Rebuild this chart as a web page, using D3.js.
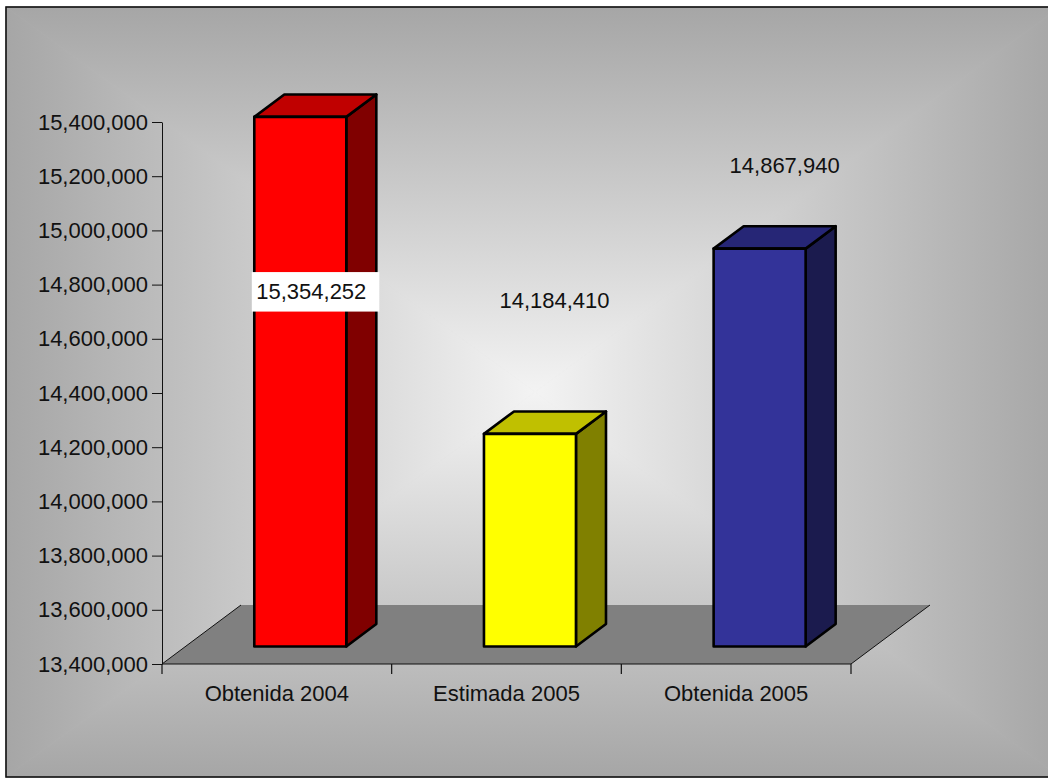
<!DOCTYPE html>
<html>
<head>
<meta charset="utf-8">
<script src="https://cdn.jsdelivr.net/npm/d3@7/dist/d3.min.js"></script>
<style>
  html, body { margin: 0; padding: 0; background: #ffffff; }
  svg { display: block; }
  text { font-family: "Liberation Sans", Arial, sans-serif; }
</style>
</head>
<body>
<svg id="chart" width="1048" height="778"></svg>
<script>
// ---- data ----
const categories = ["Obtenida 2004", "Estimada 2005", "Obtenida 2005"];
const values = [15354252, 14184410, 14867940];
const valueLabels = ["15,354,252", "14,184,410", "14,867,940"];
const yTicks = [13400000, 13600000, 13800000, 14000000, 14200000, 14400000, 14600000, 14800000, 15000000, 15200000, 15400000];
const yTickLabels = ["13,400,000", "13,600,000", "13,800,000", "14,000,000", "14,200,000", "14,400,000", "14,600,000", "14,800,000", "15,000,000", "15,200,000", "15,400,000"];
const frontColors = ["#ff0000", "#ffff00", "#333399"];
const topColors = ["#c00000", "#c0c000", "#262676"];
const sideColors = ["#800000", "#808000", "#1b1b4e"];

// ---- layout ----
const svg = d3.select("#chart");
const frame = { l: 6, t: 7, r: 1060, b: 777 };
const gc = { x: 535, y: 392 };
const plot = { left: 162, right: 851, top: 122, bottom: 664 };
const depth = { dx: 79, dy: -59 };          // floor depth vector
const barFront = 0.297;                      // bar front plane as fraction of depth
const barDepth = 0.38;                       // bar depth as fraction of depth
const barWidth = 92;
const fontSize = 22;

// ---- background (rectangular "from center" gradient) ----
const defs = svg.append("defs");
const centerCol = "#f3f3f3", edgeCol = "#a6a6a6";
const tris = [
  { id: "gT", pts: [[frame.l, frame.t], [frame.r, frame.t]], end: [gc.x, frame.t] },
  { id: "gB", pts: [[frame.l, frame.b], [frame.r, frame.b]], end: [gc.x, frame.b] },
  { id: "gL", pts: [[frame.l, frame.t], [frame.l, frame.b]], end: [frame.l, gc.y] },
  { id: "gR", pts: [[frame.r, frame.t], [frame.r, frame.b]], end: [frame.r, gc.y] }
];
tris.forEach(t => {
  const g = defs.append("linearGradient").attr("id", t.id)
    .attr("gradientUnits", "userSpaceOnUse")
    .attr("x1", gc.x).attr("y1", gc.y).attr("x2", t.end[0]).attr("y2", t.end[1]);
  g.append("stop").attr("offset", "0").attr("stop-color", centerCol);
  g.append("stop").attr("offset", "1").attr("stop-color", edgeCol);
});
svg.append("rect").attr("x", frame.l).attr("y", frame.t)
  .attr("width", frame.r - frame.l).attr("height", frame.b - frame.t)
  .attr("fill", "#c4c4c4");
tris.forEach(t => {
  svg.append("polygon")
    .attr("points", [t.pts[0], t.pts[1], [gc.x, gc.y]].map(p => p.join(",")).join(" "))
    .attr("fill", `url(#${t.id})`)
    .attr("stroke", `url(#${t.id})`).attr("stroke-width", 0.8);
});
svg.append("rect").attr("x", frame.l).attr("y", frame.t)
  .attr("width", frame.r - frame.l).attr("height", frame.b - frame.t)
  .attr("fill", "none").attr("stroke", "#111").attr("stroke-width", 1.6);

// ---- scales ----
const x = d3.scaleBand().domain(categories).range([plot.left, plot.right]).padding(0);
const y = d3.scaleLinear().domain([yTicks[0], yTicks[yTicks.length - 1]]).range([plot.bottom, plot.top]);

// ---- floor ----
const y0 = y(yTicks[0]);
const floorPts = [
  [plot.left, y0], [plot.right, y0],
  [plot.right + depth.dx, y0 + depth.dy], [plot.left + depth.dx, y0 + depth.dy]
];
svg.append("polygon").attr("points", floorPts.map(p => p.join(",")).join(" "))
  .attr("fill", "#808080");
svg.append("line").attr("x1", plot.left).attr("y1", y0)
  .attr("x2", plot.left + depth.dx).attr("y2", y0 + depth.dy)
  .attr("stroke", "#111").attr("stroke-width", 1);
svg.append("line").attr("x1", plot.right).attr("y1", y0)
  .attr("x2", plot.right + depth.dx).attr("y2", y0 + depth.dy)
  .attr("stroke", "#111").attr("stroke-width", 1);

// ---- y axis ----
const yAxis = d3.axisLeft(y).tickValues(yTicks).tickSize(10).tickSizeOuter(0).tickPadding(4)
  .tickFormat((d, i) => yTickLabels[i]);
const gy = svg.append("g").attr("transform", `translate(${plot.left},0)`).call(yAxis);
gy.select(".domain").attr("stroke", "#111").attr("stroke-width", 1);
gy.selectAll(".tick line").attr("stroke", "#111").attr("stroke-width", 1);
gy.selectAll(".tick text").attr("font-size", fontSize).attr("fill", "#111")
  .attr("font-family", "Liberation Sans, Arial, sans-serif");

// ---- x axis ----
const gx = svg.append("g");
gx.append("line").attr("x1", plot.left).attr("y1", y0).attr("x2", plot.right).attr("y2", y0)
  .attr("stroke", "#111").attr("stroke-width", 1.2);
const edges = categories.map(c => x(c)).concat([x(categories[categories.length - 1]) + x.step()]);
gx.selectAll("line.tick").data(edges).join("line").attr("class", "tick")
  .attr("x1", d => d).attr("x2", d => d).attr("y1", y0).attr("y2", y0 + 10)
  .attr("stroke", "#111").attr("stroke-width", 1.2);
gx.selectAll("text").data(categories).join("text")
  .attr("x", d => x(d) + x.bandwidth() / 2).attr("y", y0 + 37)
  .attr("text-anchor", "middle").attr("font-size", fontSize).attr("fill", "#111")
  .text(d => d);

// ---- bars ----
const offX = depth.dx * barFront, offY = depth.dy * barFront;
const bdx = depth.dx * barDepth, bdy = depth.dy * barDepth;
const bars = svg.append("g");
categories.forEach((c, i) => {
  const x0 = x(c) + (x.bandwidth() - barWidth) / 2 + offX;
  const x1 = x0 + barWidth;
  const yt = y(values[i]) + offY;
  const yb = y(yTicks[0]) + offY;
  const g = bars.append("g").attr("stroke", "#000").attr("stroke-width", 2.6).attr("stroke-linejoin", "round");
  g.append("polygon").attr("fill", sideColors[i])
    .attr("points", [[x1, yt], [x1 + bdx, yt + bdy], [x1 + bdx, yb + bdy], [x1, yb]].map(p => p.join(",")).join(" "));
  g.append("polygon").attr("fill", topColors[i])
    .attr("points", [[x0, yt], [x1, yt], [x1 + bdx, yt + bdy], [x0 + bdx, yt + bdy]].map(p => p.join(",")).join(" "));
  g.append("rect").attr("fill", frontColors[i])
    .attr("x", x0).attr("y", yt).attr("width", barWidth).attr("height", yb - yt);
});

// ---- data labels (manually placed, relative to each bar's front-top centre) ----
const labelShift = [[11, 182], [24.5, -126], [25, -76]];
const labelBox = [true, false, false];
categories.forEach((c, i) => {
  const cx = x(c) + x.bandwidth() / 2 + offX + labelShift[i][0];
  const by = y(values[i]) + offY + labelShift[i][1];
  if (labelBox[i]) {
    svg.append("rect").attr("x", cx - 59.5).attr("y", by - 26.8)
      .attr("width", 127.5).attr("height", 39.5).attr("fill", "#ffffff");
  }
  svg.append("text").attr("x", cx).attr("y", by)
    .attr("text-anchor", "middle").attr("font-size", fontSize).attr("fill", "#111")
    .text(valueLabels[i]);
});
</script>
</body>
</html>
